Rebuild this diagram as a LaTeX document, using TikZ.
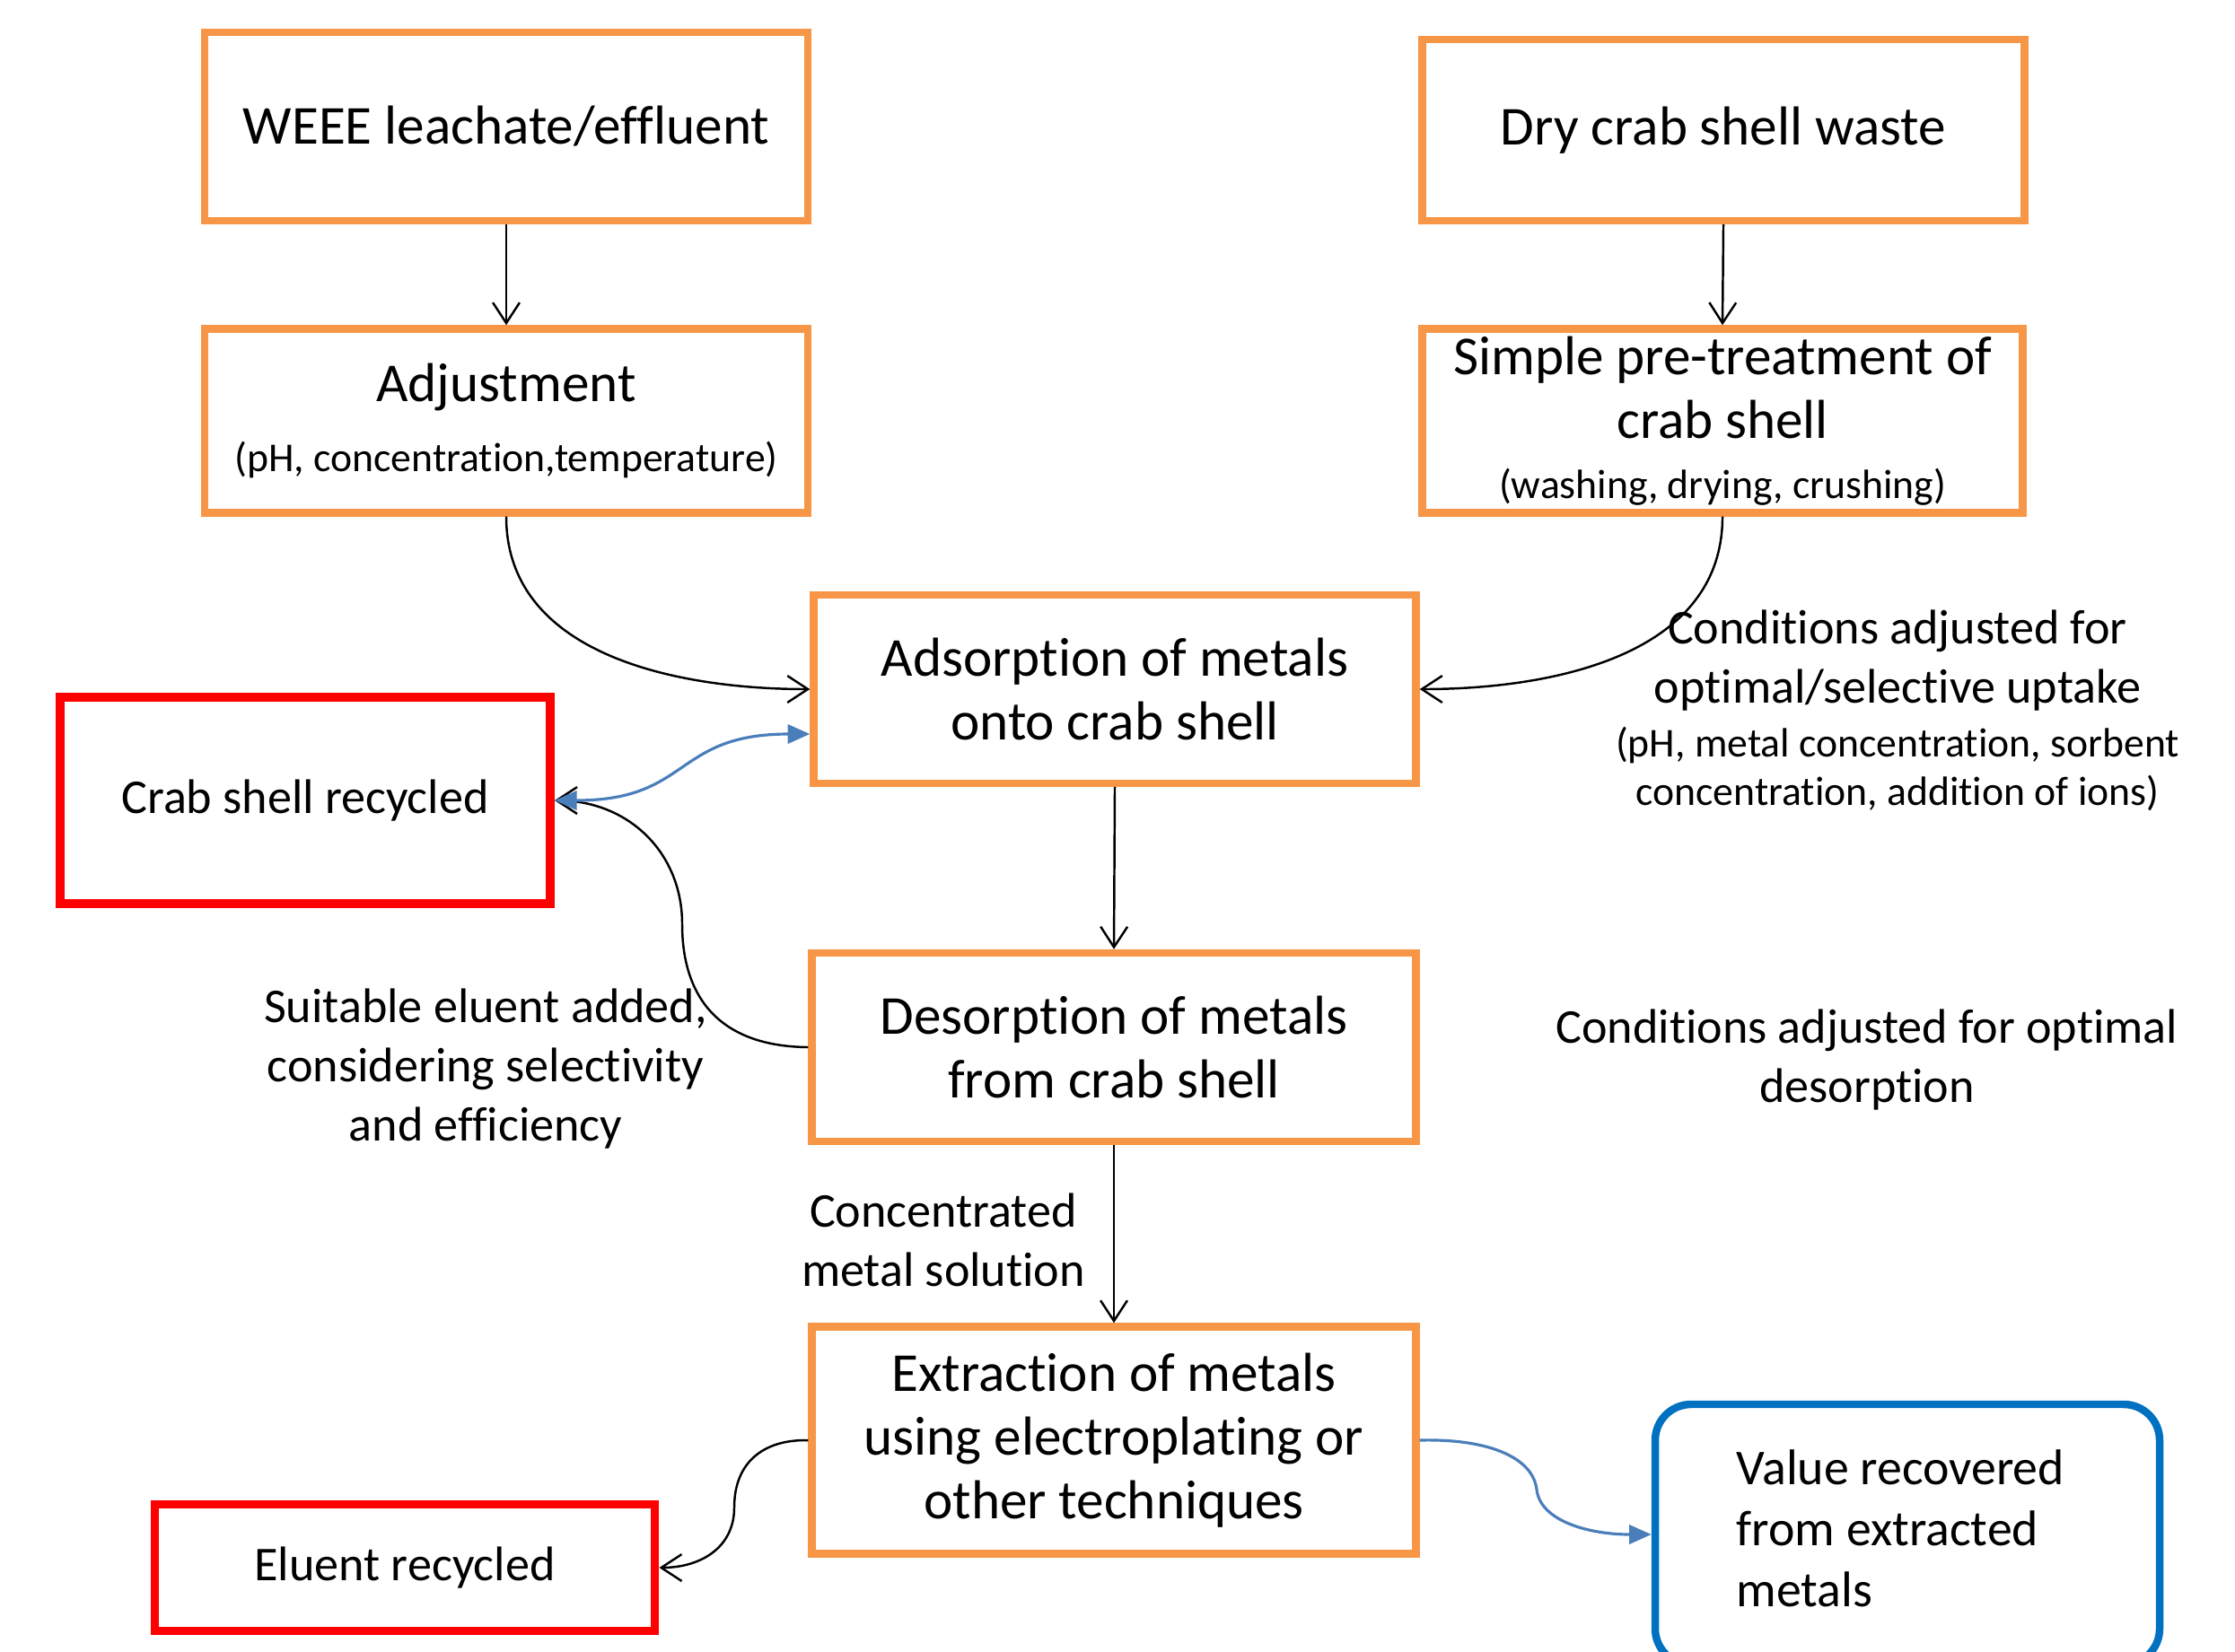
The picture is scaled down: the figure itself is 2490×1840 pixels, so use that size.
\documentclass[tikz,border=0pt]{standalone}
\usepackage{fontspec}
\setmainfont{Carlito}[Ligatures={NoCommon}]
\usetikzlibrary{arrows.meta,calc}
\definecolor{orangec}{HTML}{F79646}
\definecolor{redc}{HTML}{FF0000}
\definecolor{bluec}{HTML}{0070C0}
\definecolor{bluel}{HTML}{4A7EBB}
\newcommand\fbig{\fontsize{17.4pt}{20.2pt}\selectfont}
\newcommand\flab{\fontsize{15.4pt}{18.8pt}\selectfont}
\newcommand\fsml{\fontsize{13pt}{15.6pt}\selectfont}
\newcommand\fval{\fontsize{15.9pt}{19.3pt}\selectfont}
\begin{document}
\begin{tikzpicture}[x=0.1mm,y=-0.1mm,
  obox/.style={draw=orangec,line width=2.4pt,align=center,font=\fbig,inner sep=0pt},
  rbox/.style={draw=redc,line width=2.8pt,align=center,font=\flab,inner sep=0pt},
  bbox/.style={draw=bluec,line width=2.4pt,rounded corners=4mm,inner sep=0pt},
  lab/.style={align=center,font=\flab,inner sep=0pt},
  slab/.style={align=center,font=\fsml,inner sep=0pt},
  arr/.style={draw=black,line width=0.7pt,-{Straight Barb[length=6.5pt,width=8.5pt]}},
  barr/.style={draw=bluel,line width=0.9pt,{Triangle[length=7pt,width=6pt]}-{Triangle[length=7pt,width=6pt]}},
  barr1/.style={draw=bluel,line width=0.9pt,-{Triangle[length=7pt,width=6pt]}}]
\path[use as bounding box] (0,0) rectangle (2490,1840);
\clip (0,0) rectangle (2490,1840);
\fill[white] (0,0) rectangle (2490,1840);

% boxes
\node[obox,minimum width=67.2mm,minimum height=21.0mm] (weee) at (564,141) {WEEE leachate/effluent};
\node[obox,minimum width=67.1mm,minimum height=20.2mm] (dry) at (1920,145) {Dry crab shell waste};
\node[obox,minimum width=67.2mm,minimum height=20.5mm] (adj) at (564,469) {Adjustment\\[2pt]{\fsml (pH, concentration,temperature)}};
\node[obox,minimum width=66.9mm,minimum height=20.5mm] (pre) at (1919,469) {Simple pre-treatment of\\crab shell\\[-1pt]{\fsml (washing, drying, crushing)}};
\node[obox,minimum width=67.1mm,minimum height=21.0mm] (ads) at (1242,768) {Adsorption of metals\\onto crab shell};
\node[rbox,minimum width=54.6mm,minimum height=23.0mm] (crab) at (340,892) {Crab shell recycled};
\node[obox,minimum width=67.3mm,minimum height=21.0mm] (des) at (1241,1167) {Desorption of metals\\from crab shell};
\node[obox,minimum width=67.3mm,minimum height=25.3mm] (ext) at (1241,1605) {Extraction of metals\\using electroplating or\\other techniques};
\node[rbox,minimum width=55.7mm,minimum height=14.1mm] (elu) at (451,1747) {Eluent recycled};
\node[bbox,minimum width=56.2mm,minimum height=29mm] (val) at (2125,1710) {};
\node[anchor=west,align=left,font=\fval,inner sep=0pt] (valt) at (1934,1703) {Value recovered\\from extracted\\metals};

% labels
\node[lab] (cond1) at (2114,736) {Conditions adjusted for\\optimal/selective uptake};
\node[slab] (cond1s) at (2114,857) {(pH, metal concentration, sorbent\\concentration, addition of ions)};
\node[lab] (suit) at (541,1191) {Suitable eluent added,\\considering selectivity\\and efficiency};
\node[lab] (cond2) at (2080,1181) {Conditions adjusted for optimal\\desorption};
\node[lab] (conc) at (1051,1382) {Concentrated\\metal solution};

% connectors
\draw[arr] (weee.south) -- (adj.north);
\draw[arr] (dry.south) -- (pre.north);
\draw[arr] (ads.south) -- (des.north);
\draw[arr] (des.south) -- (ext.north);
\draw[arr] (adj.south) .. controls (564,728) and (750,768) .. (ads.west);
\draw[arr] (pre.south) .. controls (1919,728) and (1735,768) .. (ads.east);
\coordinate (m1) at (760,1030);
\draw[arr] (des.west) .. controls (800,1166) and (760,1110) .. (m1)
  .. controls (760,950) and (700,892) .. (crab.east);
\coordinate (adsin) at ($(ads.west)+(0,50)$);
\draw[barr] (crab.east) .. controls (770,892) and (750,818) .. (adsin);
\coordinate (m2) at (818,1680);
\draw[arr] (ext.west) .. controls (850,1604) and (818,1630) .. (m2)
  .. controls (818,1725) and (780,1747) .. (elu.east);
\coordinate (m3) at (1712,1660);
\draw[barr1] (ext.east) .. controls (1660,1603) and (1708,1625) .. (m3)
  .. controls (1716,1695) and (1770,1710) .. (val.west);
\end{tikzpicture}
\end{document}
